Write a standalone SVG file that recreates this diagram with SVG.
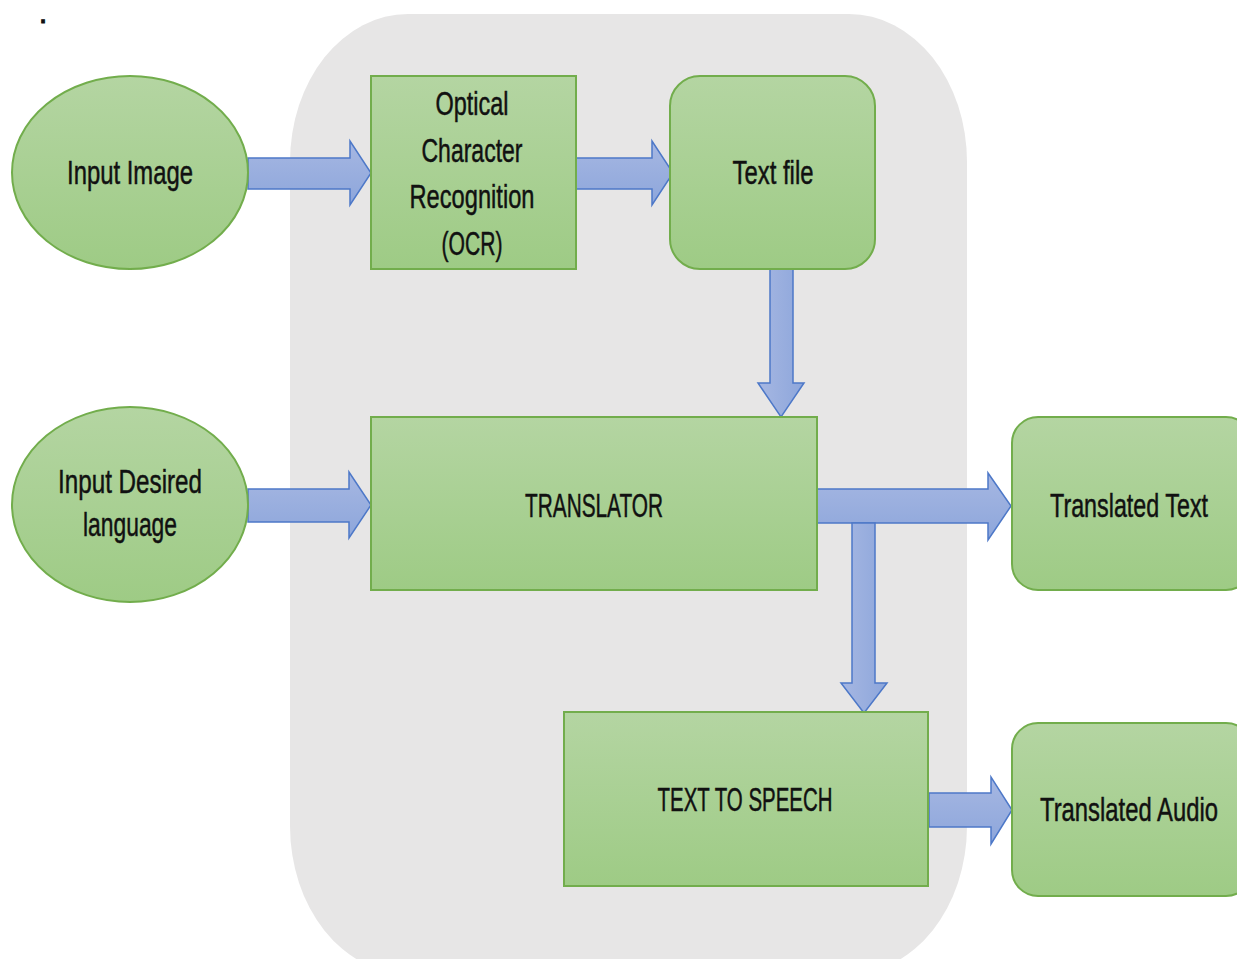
<svg xmlns="http://www.w3.org/2000/svg" width="1237" height="959" viewBox="0 0 1237 959">
  <defs>
    <linearGradient id="greenFill" x1="0" y1="0" x2="0" y2="1">
      <stop offset="0" stop-color="#B4D5A2"/>
      <stop offset="1" stop-color="#9ECB85"/>
    </linearGradient>
    <linearGradient id="blueFillH" x1="0" y1="0" x2="0" y2="1">
      <stop offset="0" stop-color="#A6B7E2"/>
      <stop offset="1" stop-color="#8DA6DB"/>
    </linearGradient>
    <linearGradient id="blueFillV" x1="0" y1="0" x2="1" y2="0">
      <stop offset="0" stop-color="#A6B7E2"/>
      <stop offset="1" stop-color="#8DA6DB"/>
    </linearGradient>
  </defs>
  <style>
    .node { fill: url(#greenFill); stroke: #72AD4C; stroke-width: 2; }
    .arrowH { fill: url(#blueFillH); stroke: #4D78C8; stroke-width: 1.5; stroke-linejoin: miter; }
    .arrowV { fill: url(#blueFillV); stroke: #4D78C8; stroke-width: 1.5; stroke-linejoin: miter; }
    .label { font-family: "Liberation Sans", Arial, sans-serif; font-size: 24px; fill: #111111; stroke: #111111; stroke-width: 0.35; text-anchor: middle; }
  </style>

  <rect width="1237" height="959" fill="#FFFFFF"/>

  <!-- stray period in the top-left corner -->
  <text x="40" y="23" font-family="Liberation Sans, Arial, sans-serif" font-size="22" font-weight="bold" fill="#111" stroke="#111" stroke-width="0.8">.</text>

  <!-- grey processing panel -->
  <rect id="panel" x="290" y="14" width="677" height="960" rx="118" ry="148" fill="#E7E6E6"/>

  <!-- connectors (block arrows) -->
  <g id="connectors">
    <!-- Input Image -> OCR -->
    <path class="arrowH" d="M248,158 H350 V141 L371,173 L350,205 V189 H248 Z"/>
    <!-- OCR -> Text file -->
    <path class="arrowH" d="M576,158 H652 V141 L673,173 L652,205 V189 H576 Z"/>
    <!-- Text file -> TRANSLATOR -->
    <path class="arrowV" d="M770,269 H793 V383 H804 L781,417 L758,383 H770 Z"/>
    <!-- Input Desired language -> TRANSLATOR -->
    <path class="arrowH" d="M248,489 H349 V472 L371,505 L349,538 V522 H248 Z"/>
    <!-- TRANSLATOR -> Translated Text -->
    <path class="arrowH" d="M817,489 H988 V473 L1011,506 L988,540 V523 H817 Z"/>
    <!-- TRANSLATOR -> TEXT TO SPEECH -->
    <path class="arrowV" d="M852,523 H875 V683 H887 L864,713 L841,683 H852 Z"/>
    <!-- TEXT TO SPEECH -> Translated Audio -->
    <path class="arrowH" d="M929,793 H991 V777 L1012,810 L991,844 V827 H929 Z"/>
  </g>

  <g id="input-image">
    <ellipse class="node" cx="130" cy="172.5" rx="118" ry="96.5"/>
    <text class="label" transform="translate(130,184) scale(1,1.38)" textLength="126" lengthAdjust="spacingAndGlyphs">Input Image</text>
  </g>

  <g id="input-language">
    <ellipse class="node" cx="130" cy="504.5" rx="118" ry="97.5"/>
    <text class="label" transform="translate(130,493) scale(1,1.38)" textLength="144" lengthAdjust="spacingAndGlyphs">Input Desired</text>
    <text class="label" transform="translate(130,536) scale(1,1.38)" textLength="94" lengthAdjust="spacingAndGlyphs">language</text>
  </g>

  <g id="ocr">
    <rect class="node" x="371" y="76" width="205" height="193"/>
    <text class="label" transform="translate(472,115) scale(1,1.38)" textLength="73" lengthAdjust="spacingAndGlyphs">Optical</text>
    <text class="label" transform="translate(472,162) scale(1,1.38)" textLength="101" lengthAdjust="spacingAndGlyphs">Character</text>
    <text class="label" transform="translate(472,208) scale(1,1.38)" textLength="125" lengthAdjust="spacingAndGlyphs">Recognition</text>
    <text class="label" transform="translate(472,255) scale(1,1.38)" textLength="61" lengthAdjust="spacingAndGlyphs">(OCR)</text>
  </g>

  <g id="text-file">
    <rect class="node" x="670" y="76" width="205" height="193" rx="30" ry="30"/>
    <text class="label" transform="translate(773,184) scale(1,1.38)" textLength="81" lengthAdjust="spacingAndGlyphs">Text file</text>
  </g>

  <g id="translator">
    <rect class="node" x="371" y="417" width="446" height="173"/>
    <text class="label" transform="translate(594,517) scale(1,1.38)" textLength="138" lengthAdjust="spacingAndGlyphs">TRANSLATOR</text>
  </g>

  <g id="translated-text">
    <rect class="node" x="1012" y="417" width="240" height="173" rx="26" ry="26"/>
    <text class="label" transform="translate(1129,517) scale(1,1.38)" textLength="158" lengthAdjust="spacingAndGlyphs">Translated Text</text>
  </g>

  <g id="text-to-speech">
    <rect class="node" x="564" y="712" width="364" height="174"/>
    <text class="label" transform="translate(745,811) scale(1,1.38)" textLength="175" lengthAdjust="spacingAndGlyphs">TEXT TO SPEECH</text>
  </g>

  <g id="translated-audio">
    <rect class="node" x="1012" y="723" width="240" height="173" rx="26" ry="26"/>
    <text class="label" transform="translate(1129,821) scale(1,1.38)" textLength="178" lengthAdjust="spacingAndGlyphs">Translated Audio</text>
  </g>
</svg>
